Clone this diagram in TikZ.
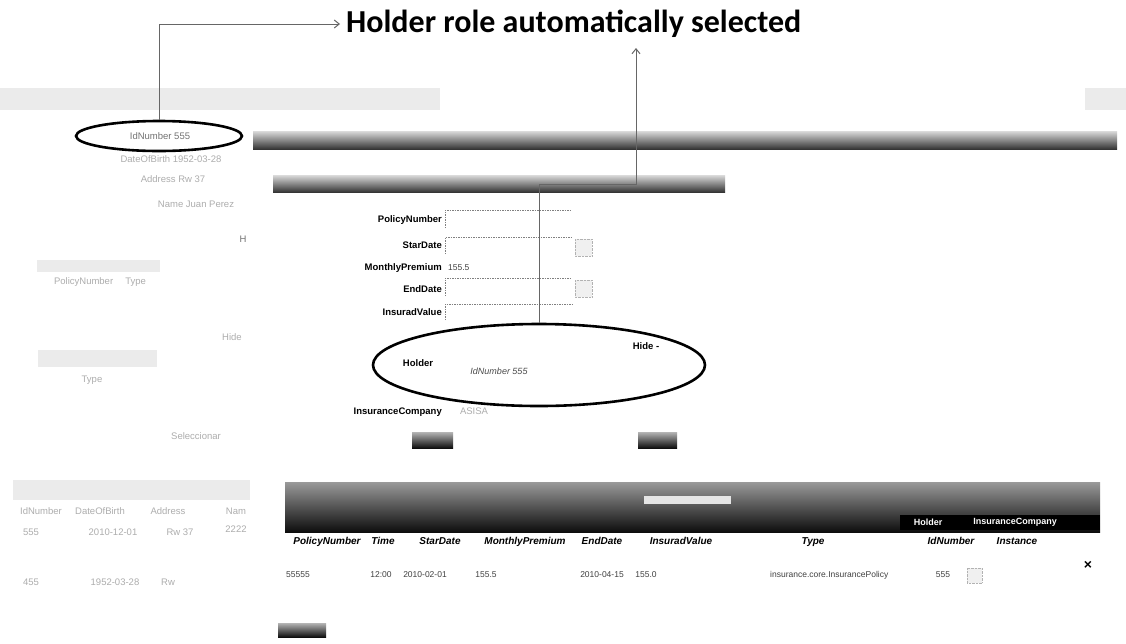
\documentclass[tikz,border=0pt]{standalone}
\usepackage{fontspec}
\setmainfont{Liberation Sans}
\newfontfamily\headfont{Carlito}
\usetikzlibrary{shapes.geometric,arrows.meta,calc}

\begin{document}
\begin{tikzpicture}[x=1pt,y=-1pt,
  faint/.style={text=black!32, font=\fontsize{9.5}{11}\selectfont, inner sep=0, text height=7pt, text depth=2pt},
  lbl/.style={font=\bfseries\fontsize{9.5}{11}\selectfont, inner sep=0, anchor=east, text height=7pt, text depth=2pt},
  hdr/.style={font=\bfseries\itshape\fontsize{10}{11}\selectfont, inner sep=0, text height=7pt, text depth=2pt},
  cell/.style={font=\fontsize{8.5}{10}\selectfont, text=black!75, inner sep=0, text height=7pt, text depth=2pt},
  ring/.style={draw=black, line width=2.6pt, ellipse, inner sep=0},
  conn/.style={draw=black!60, line width=1pt},
  tip/.style={-{Straight Barb[length=5pt,width=8pt]}},
  graybar/.style={top color=black!15, bottom color=black!80, draw=none, inner sep=0, anchor=north west},
  darkbar/.style={top color=black!40, bottom color=black!95, draw=none, inner sep=0, anchor=north west},
  haze/.style={fill=black!8, draw=none},
  field/.style={draw=black!50, dash pattern=on 1.5pt off 1pt, line width=0.6pt},
  btn/.style={top color=black!30, bottom color=black!95, draw=none, inner sep=0, anchor=north west},
  icon/.style={draw=black!30, densely dotted, fill=black!6}
]
\useasboundingbox (0,0) rectangle (1126,643);
\fill[white] (0,0) rectangle (1126,643);

% caption
\node[font=\headfont\bfseries\fontsize{32}{35}\selectfont, anchor=west, inner sep=0] (title) at (346,24) {Holder role automatically selected};

% ---------- faded list of persons on the left ----------
\fill[haze] (0,88) rectangle (440,110);
\fill[haze] (1085,88) rectangle (1126,110);
\node[faint, text=black!55] (idnum) at (160,137) {IdNumber 555};
\node[faint] (dob) at (171,160) {DateOfBirth 1952-03-28};
\node[faint] (addr) at (173,180) {Address Rw 37};
\node[faint] (name) at (196,205) {Name Juan Perez};
\node[faint, text=black!55] (hh) at (243,240) {H};
\fill[haze] (37,260) rectangle (160,272);
\node[faint] (pt) at (100,282) {PolicyNumber \quad Type};
\node[faint] (hide1) at (232,338) {Hide};
\fill[haze] (38,350) rectangle (157,367);
\node[faint] (type1) at (92,380) {Type};
\node[faint] (sel) at (196,437) {Seleccionar};
\fill[haze] (13,480) rectangle (250,500);
\node[faint] (lh1) at (41,512) {IdNumber};
\node[faint] (lh2) at (100,512) {DateOfBirth};
\node[faint] (lh3) at (168,512) {Address};
\node[faint] (lh4) at (236,512) {Nam};
\node[faint] (r1a) at (31,533) {555};
\node[faint] (r1b) at (113,533) {2010-12-01};
\node[faint] (r1c) at (180,533) {Rw 37};
\node[faint] (r1d) at (236,530) {2222};
\node[faint] (r2a) at (31,583) {455};
\node[faint] (r2b) at (115,583) {1952-03-28};
\node[faint] (r2c) at (168,583) {Rw};

% ---------- selected person ----------
\node[ring, minimum width=166pt, minimum height=30pt] (idring) at (159,136) {};
\draw[conn, tip] (idring.north) |- ([xshift=-6pt]title.west);

% ---------- policy form ----------
\node[graybar, minimum width=864pt, minimum height=18pt] (bar1) at (253,131) {};
\node[graybar, minimum width=452pt, minimum height=17pt] (bar2) at (273,175) {};

\node[lbl] (l1) at (442,220) {PolicyNumber};
\node[lbl] (l2) at (442,246) {StarDate};
\node[lbl] (l3) at (442,268) {MonthlyPremium};
\node[lbl] (l4) at (442,290) {EndDate};
\node[lbl] (l5) at (442,313) {InsuradValue};
\draw[field] (445,228) -- (445,210) -- (572,210);
\draw[field] (445,254) -- (445,237) -- (572,237);
\draw[field] (445,296) -- (445,278) -- (572,278);
\draw[field] (445,320) -- (445,304) -- (572,304);
\node[cell, anchor=west] (v3) at (448,268) {155.5};
\draw[icon] (575,239) rectangle (592,256);
\draw[icon] (575,280) rectangle (592,297);

\node[ring, minimum width=332pt, minimum height=82pt] (bigring) at (539,365) {};
\node[font=\bfseries\fontsize{9.5}{11}\selectfont, inner sep=0] (holder) at (418,363) {Holder};
\node[font=\itshape\fontsize{9}{10}\selectfont, text=black!70, inner sep=0] (hid) at (499,371) {IdNumber 555};
\node[font=\bfseries\fontsize{9.5}{11}\selectfont, inner sep=0] (hide) at (646,346) {Hide -};

\node[lbl] (l6) at (442,412) {InsuranceCompany};
\node[faint] (asisa) at (474,412) {ASISA};
\node[btn, minimum width=41pt, minimum height=16pt] (ok) at (412,432) {};
\node[btn, minimum width=39pt, minimum height=16pt] (cancel) at (638,432) {};

\coordinate (kink) at (539,184);
\coordinate (up) at (636,48);
\draw[conn, tip] (bigring.north) -- (kink) -| (up);

% ---------- instances table ----------
\node[darkbar, minimum width=815pt, minimum height=50pt] (tbar) at (285,482) {};
\fill[black!10] (644,496) rectangle (731,504);
\fill[black] (900,515) rectangle (1100,530);
\node[font=\bfseries\fontsize{9}{10}\selectfont, text=white, inner sep=0] (th1) at (928,522) {Holder};
\node[font=\bfseries\fontsize{9}{10}\selectfont, text=white, inner sep=0] (th2) at (1015,522) {InsuranceCompany};

\node[hdr] (c1) at (327,542) {PolicyNumber};
\node[hdr] (c2) at (383,542) {Time};
\node[hdr] (c3) at (440,542) {StarDate};
\node[hdr] (c4) at (525,542) {MonthlyPremium};
\node[hdr] (c5) at (602,542) {EndDate};
\node[hdr] (c6) at (681,542) {InsuradValue};
\node[hdr] (c7) at (813,542) {Type};
\node[hdr] (c8) at (951,542) {IdNumber};
\node[hdr] (c9) at (1017,542) {Instance};

\node[cell] (d1) at (298,575) {55555};
\node[cell] (d2) at (381,575) {12:00};
\node[cell] (d3) at (425,575) {2010-02-01};
\node[cell] (d4) at (486,575) {155.5};
\node[cell] (d5) at (602,575) {2010-04-15};
\node[cell] (d6) at (646,575) {155.0};
\node[cell, anchor=west] (d7) at (770,575) {insurance.core.InsurancePolicy};
\node[cell] (d8) at (943,575) {555};
\draw[icon] (967,568) rectangle (982,583);
\node[font=\bfseries\fontsize{14}{15}\selectfont, inner sep=0] (del) at (1088,565) {×};

\node[btn, minimum width=48pt, minimum height=14pt] (back) at (278,623) {};
\end{tikzpicture}
\end{document}
